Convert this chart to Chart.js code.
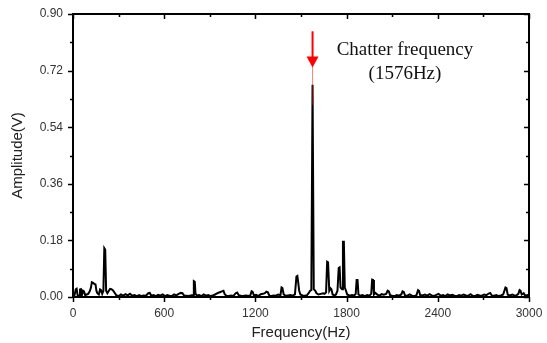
<!DOCTYPE html>
<html>
<head>
<meta charset="utf-8">
<script src="https://cdn.jsdelivr.net/npm/chart.js@4/dist/chart.umd.min.js"></script>
<style>
  body { margin: 0; background: #fff; }
  canvas { display: block; }
</style>
</head>
<body>
<canvas id="espectro" width="547" height="343"></canvas>
<script>
// spectrum of the cutting signal, frequency (Hz) and amplitude (V)
const freqHz = [
  0, 10, 18, 24, 30, 40, 46, 52, 58, 66,
  72, 80, 90, 100, 110, 118, 124, 132, 140, 148,
  154, 160, 170, 178, 184, 192, 200, 206, 212, 218,
  226, 236, 244, 252, 260, 268, 276, 284, 292, 300,
  315, 330, 345, 360, 375, 390, 405, 420, 435, 450,
  465, 480, 495, 505, 515, 530, 545, 560, 575, 590,
  605, 620, 635, 650, 665, 680, 695, 710, 720, 730,
  745, 760, 775, 790, 795, 801, 806, 815, 830, 845,
  860, 875, 890, 905, 920, 935, 950, 965, 980, 990,
  998, 1010, 1025, 1040, 1055, 1070, 1080, 1090, 1105, 1120,
  1135, 1150, 1165, 1175, 1182, 1190, 1205, 1220, 1235, 1250,
  1262, 1272, 1282, 1292, 1305, 1320, 1335, 1350, 1365, 1372,
  1378, 1386, 1400, 1415, 1430, 1445, 1460, 1470, 1476, 1482,
  1488, 1496, 1510, 1525, 1540, 1550, 1560, 1568, 1576,
  1584, 1594, 1602, 1615, 1630, 1645, 1655, 1665, 1672, 1678,
  1686, 1694, 1700, 1708, 1720, 1730, 1740, 1748, 1754, 1760,
  1770, 1776, 1782, 1788, 1796, 1804, 1820, 1835, 1850, 1860,
  1866, 1872, 1878, 1890, 1905, 1920, 1935, 1950, 1962, 1968,
  1974, 1980, 1990, 2000, 2015, 2030, 2045, 2060, 2070, 2078,
  2086, 2100, 2115, 2130, 2145, 2160, 2168, 2176, 2184, 2200,
  2215, 2230, 2245, 2260, 2270, 2276, 2284, 2300, 2315, 2330,
  2345, 2360, 2375, 2390, 2405, 2420, 2435, 2450, 2465, 2480,
  2495, 2510, 2525, 2540, 2555, 2570, 2585, 2600, 2615, 2630,
  2645, 2660, 2675, 2690, 2705, 2720, 2735, 2745, 2755, 2770,
  2785, 2800, 2815, 2830, 2845, 2852, 2860, 2875, 2890, 2905,
  2920, 2930, 2938, 2944, 2952, 2965, 2975, 2990, 3000
];
const ampV = [
  .004, .006, .024, .026, .006, .004, .024, .025, .005, .020,
  .018, .006, .008, .010, .018, .030, .047, .045, .042, .040,
  .020, .012, .008, .024, .022, .010, .020, .155, .150, .020,
  .012, .020, .026, .025, .022, .018, .012, .006, .004, .003,
  .008, .004, .009, .005, .010, .004, .006, .003, .006, .003,
  .005, .004, .012, .013, .004, .006, .003, .007, .004, .008,
  .003, .006, .004, .003, .008, .005, .010, .013, .012, .005,
  .004, .003, .005, .006, .050, .048, .010, .005, .006, .003,
  .008, .004, .006, .003, .005, .008, .012, .015, .018, .020,
  .009, .004, .003, .005, .003, .012, .014, .006, .004, .003,
  .005, .004, .003, .018, .016, .005, .007, .003, .009, .010,
  .012, .017, .015, .004, .003, .005, .004, .008, .006, .030,
  .028, .008, .004, .005, .006, .004, .008, .065, .067, .045,
  .020, .008, .005, .004, .006, .012, .020, .022, .675,
  .025, .020, .012, .008, .010, .012, .010, .015, .112, .110,
  .020, .028, .025, .008, .005, .008, .020, .092, .094, .030,
  .025, .176, .176, .030, .020, .008, .004, .006, .005, .010,
  .054, .054, .008, .004, .006, .003, .006, .004, .010, .055,
  .054, .008, .013, .008, .004, .009, .007, .010, .020, .018,
  .006, .004, .003, .006, .004, .008, .018, .016, .005, .004,
  .008, .004, .003, .006, .022, .020, .006, .005, .008, .004,
  .009, .005, .003, .007, .010, .004, .006, .003, .008, .005,
  .007, .004, .003, .006, .004, .008, .005, .004, .009, .004,
  .003, .007, .005, .004, .008, .006, .011, .013, .005, .004,
  .006, .003, .005, .008, .030, .028, .007, .005, .008, .004,
  .006, .010, .022, .020, .008, .012, .004, .006, .004
];

const xTicks = [0, 600, 1200, 1800, 2400, 3000];
const yTicks = [0.00, 0.18, 0.36, 0.54, 0.72, 0.90];

const chatterHz = 1576;
const chatterTexto = ["Chatter frequency", "(1576Hz)"];

const puntos = freqHz.map((f, i) => ({ x: f, y: ampV[i] }));

// no extra padding from the tick labels, the plot box stays where the layout puts it
function sinPadding(s) {
  s.paddingLeft = 0; s.paddingRight = 0; s.paddingTop = 0; s.paddingBottom = 0;
}

// frame, tick marks and the red arrow over the chatter peak
const marco = {
  id: "marco",
  afterDatasetsDraw(chart) {
    const { ctx, chartArea: a, scales: { x, y } } = chart;
    ctx.save();
    ctx.strokeStyle = "#000";
    ctx.lineWidth = 2;
    ctx.strokeRect(a.left, a.top, a.right - a.left, a.bottom - a.top);

    ctx.lineWidth = 1.5;
    ctx.beginPath();
    for (let v = 0; v <= 3000; v += 300) {
      const px = Math.round(x.getPixelForValue(v)) + 0.5;
      const len = v % 600 === 0 ? 5 : 3;
      ctx.moveTo(px, a.bottom); ctx.lineTo(px, a.bottom + len);
      ctx.moveTo(px, a.top); ctx.lineTo(px, a.top + len);
    }
    for (let k = 0; k <= 10; k++) {
      const py = Math.round(y.getPixelForValue(k * 0.09)) + 0.5;
      const len = k % 2 === 0 ? 5 : 3;
      ctx.moveTo(a.left, py); ctx.lineTo(a.left - len, py);
      ctx.moveTo(a.right, py); ctx.lineTo(a.right - len, py);
    }
    ctx.stroke();

    // arrow
    const ax = x.getPixelForValue(chatterHz);
    const tip = y.getPixelForValue(0.73);
    ctx.strokeStyle = "#ff0000";
    ctx.fillStyle = "#ff0000";
    ctx.lineWidth = 2;
    ctx.beginPath();
    ctx.moveTo(ax, y.getPixelForValue(0.845));
    ctx.lineTo(ax, tip - 8);
    ctx.stroke();
    ctx.beginPath();
    ctx.moveTo(ax - 6, tip - 11);
    ctx.lineTo(ax + 6, tip - 11);
    ctx.lineTo(ax, tip);
    ctx.closePath();
    ctx.fill();
    ctx.lineWidth = 1;
    ctx.setLineDash([1, 1]);
    ctx.beginPath();
    ctx.moveTo(ax, tip);
    ctx.lineTo(ax, y.getPixelForValue(0.61));
    ctx.stroke();
    ctx.setLineDash([]);

    ctx.fillStyle = "#111";
    ctx.font = "19px 'Liberation Serif', 'Times New Roman', serif";
    ctx.textAlign = "center";
    ctx.textBaseline = "middle";
    ctx.fillText(chatterTexto[0], x.getPixelForValue(2184), y.getPixelForValue(0.784));
    ctx.fillText(chatterTexto[1], x.getPixelForValue(2184), y.getPixelForValue(0.71));
    ctx.restore();
  }
};

const ctx = document.getElementById("espectro").getContext("2d");

new Chart(ctx, {
  type: "line",
  data: {
    datasets: [{
      data: puntos,
      borderColor: "#000",
      borderWidth: 2,
      pointRadius: 0,
      tension: 0,
      fill: false
    }]
  },
  options: {
    responsive: false,
    animation: false,
    layout: { autoPadding: false, padding: { top: 14, right: 18, left: 0, bottom: 0 } },
    plugins: { legend: { display: false }, tooltip: { enabled: false } },
    scales: {
      x: {
        type: "linear",
        min: 0, max: 3000,
        afterFit: s => { s.height = 46; sinPadding(s); },
        afterBuildTicks: s => { s.ticks = xTicks.map(v => ({ value: v })); },
        grid: { display: false, drawTicks: false },
        border: { display: false },
        ticks: {
          padding: 9,
          color: "#333",
          font: { family: "'Liberation Sans', Arial", size: 12 },
          maxRotation: 0,
          callback: v => String(v)
        },
        title: {
          display: true,
          text: "Frequency(Hz)",
          color: "#222",
          font: { family: "'Liberation Sans', Arial", size: 15 },
          padding: { bottom: 1 }
        }
      },
      y: {
        min: 0, max: 0.9,
        afterFit: s => { s.width = 73; sinPadding(s); },
        afterBuildTicks: s => { s.ticks = yTicks.map(v => ({ value: v })); },
        grid: { display: false, drawTicks: false },
        border: { display: false },
        ticks: {
          padding: 10,
          color: "#333",
          font: { family: "'Liberation Sans', Arial", size: 12 },
          callback: v => v.toFixed(2)
        },
        title: {
          display: true,
          text: "Amplitude(V)",
          color: "#222",
          font: { family: "'Liberation Sans', Arial", size: 15 },
          padding: { top: 9 }
        }
      }
    }
  },
  plugins: [marco]
});
</script>
</body>
</html>
